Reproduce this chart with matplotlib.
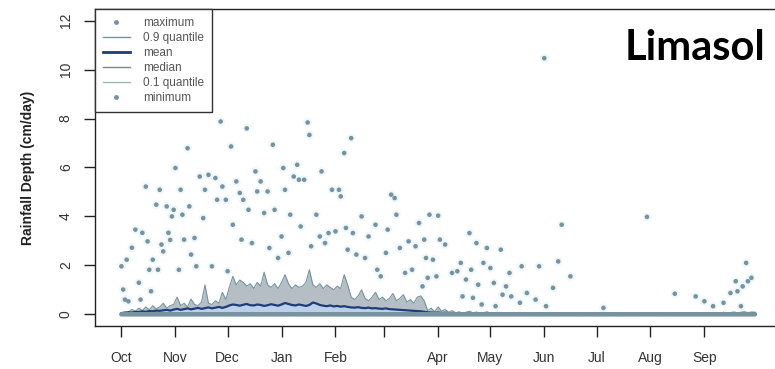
import numpy as np
import matplotlib
matplotlib.use("Agg")
import matplotlib.pyplot as plt
from matplotlib.lines import Line2D

plt.rcParams['font.family'] = ['Liberation Sans', 'DejaVu Sans']

# ---- data (day of water year, starting 1 October) ----
month_ticks = [0, 31, 61, 92, 123, 151, 182, 212, 243, 273, 304, 335]
month_labels = ["Oct", "Nov", "Dec", "Jan", "Feb", "", "Apr", "May", "Jun", "Jul", "Aug", "Sep"]

# daily maximum rainfall over the record (cm/day)
max_day = [0, 1, 2, 3, 4, 6, 8, 10, 11, 12, 14, 15, 16, 17, 18, 20, 21, 22, 23, 24,
           26, 27, 28, 29, 30, 31, 33, 34, 35, 36, 38, 39, 40, 42, 43, 45, 47, 48, 50, 52,
           54, 55, 57, 58, 60, 61, 63, 64, 66, 68, 69, 70, 72, 73, 75, 77, 78, 80, 82, 84,
           85, 87, 88, 90, 92, 93, 94, 96, 97, 99, 101, 102, 103, 105, 107, 108, 109, 112, 114, 115,
           117, 119, 121, 123, 125, 126, 128, 129, 130, 132, 133, 135, 138, 140, 142, 146, 147, 149, 152, 153,
           155, 157, 158, 160, 163, 165, 167, 169, 171, 173, 174, 175, 176, 177, 179, 181, 182, 183, 186, 190,
           193, 195, 196, 198, 200, 201, 202, 204, 205, 207, 208, 210, 212, 214, 215, 218, 219, 221, 223, 224,
           229, 230, 233, 238, 240, 243, 244, 248, 251, 253, 258, 277, 302, 318, 330, 335, 340, 346, 350, 353,
           354, 356, 357, 359, 360, 362]
max_val = [1.96, 1.01, 0.60, 2.23, 0.53, 2.72, 3.46, 1.29, 0.60, 3.33, 5.22, 2.98, 1.82, 0.94, 2.23, 4.48, 1.82, 5.09, 2.85, 2.57,
           4.41, 3.33, 3.04, 4.00, 4.27, 5.98, 1.82, 5.09, 4.07, 3.05, 6.79, 4.41, 2.44, 3.12, 1.96, 5.63, 3.93, 5.09, 5.70, 1.96,
           5.57, 4.68, 7.88, 5.22, 4.68, 1.76, 6.86, 3.66, 5.43, 4.96, 3.05, 4.68, 7.60, 4.27, 2.91, 5.84, 5.02, 5.43, 4.14, 5.02,
           2.71, 6.93, 4.27, 2.30, 3.18, 5.98, 5.09, 2.51, 4.07, 5.63, 6.11, 5.50, 3.59, 5.50, 7.84, 7.33, 2.78, 4.07, 3.18, 5.84,
           2.91, 3.32, 5.09, 3.39, 5.09, 4.82, 6.59, 3.53, 2.64, 7.20, 3.32, 2.44, 4.00, 2.30, 3.18, 3.66, 1.82, 1.55, 2.51, 3.46,
           4.89, 4.75, 4.07, 2.71, 1.69, 2.98, 1.82, 2.78, 3.73, 1.14, 3.05, 2.30, 1.49, 4.07, 2.23, 1.55, 4.03, 3.05, 2.85, 1.69,
           1.76, 2.10, 0.73, 1.42, 3.32, 1.82, 0.67, 2.91, 1.21, 0.40, 2.10, 2.71, 1.89, 1.28, 0.33, 2.64, 0.80, 1.14, 1.69, 0.73,
           0.47, 1.96, 0.87, 0.60, 1.96, 10.47, 0.33, 1.08, 2.16, 3.66, 1.55, 0.26, 3.98, 0.84, 0.73, 0.53, 0.33, 0.47, 0.87, 1.35,
           0.94, 0.33, 1.14, 2.10, 1.35, 1.49]

# statistics on a two-day grid
stat_day = np.arange(0, 365, 2)
q90 = [0.05, 0.10, 0.08, 0.20, 0.12, 0.25, 0.15, 0.30, 0.18, 0.35,
       0.22, 0.30, 0.45, 0.25, 0.35, 0.40, 0.70, 0.35, 0.45, 0.30,
       0.62, 0.40, 0.35, 0.50, 1.20, 0.45, 0.40, 0.55, 0.45, 0.90,
       0.60, 1.10, 1.55, 1.20, 1.40, 1.30, 1.15, 1.25, 1.05, 1.30,
       1.15, 1.72, 1.20, 1.10, 1.25, 1.05, 1.30, 1.62, 1.25, 1.05,
       1.20, 1.10, 1.15, 1.30, 1.82, 1.20, 1.10, 1.25, 1.05, 1.20,
       1.10, 1.00, 1.15, 1.05, 1.62, 1.20, 0.70, 0.60, 0.75, 1.00,
       0.65, 0.55, 0.70, 0.90, 0.60, 0.70, 0.55, 0.65, 0.85, 0.55,
       0.65, 0.80, 0.50, 0.60, 0.45, 0.70, 0.75, 0.55, 0.15, 0.25,
       0.10, 0.30, 0.12, 0.20, 0.08, 0.15,
       0.06, 0.10, 0.05, 0.08, 0.12, 0.06, 0.09, 0.05, 0.07, 0.10, 0.05, 0.06, 0.08, 0.04, 0.06,
       0.05, 0.07, 0.04, 0.06, 0.05, 0.04, 0.06, 0.03, 0.05, 0.04, 0.03, 0.05, 0.04, 0.03, 0.04,
       0.03, 0.03, 0.04, 0.03, 0.02,
       0.03, 0.02, 0.02, 0.03, 0.02, 0.02, 0.02, 0.03, 0.02, 0.02, 0.02, 0.02, 0.03, 0.02, 0.02,
       0.02, 0.02, 0.02, 0.03, 0.02, 0.02, 0.02, 0.02, 0.02, 0.03, 0.02, 0.03, 0.02, 0.03, 0.03,
       0.03, 0.04, 0.03, 0.04, 0.05, 0.04, 0.06, 0.05, 0.04, 0.06, 0.07, 0.05, 0.08, 0.06, 0.07,
       0.09, 0.06, 0.08, 0.10, 0.07, 0.09, 0.08]
mean = [0.05, 0.06, 0.08, 0.07, 0.10, 0.09, 0.12, 0.10, 0.13, 0.12, 0.15, 0.14, 0.16, 0.18, 0.15, 0.19,
        0.22, 0.18, 0.21, 0.24, 0.20, 0.23, 0.26, 0.22, 0.25, 0.28, 0.24, 0.27, 0.30, 0.26, 0.30,
        0.36, 0.40, 0.38, 0.35, 0.39, 0.42, 0.37, 0.36, 0.40, 0.38, 0.34, 0.37, 0.41, 0.38, 0.35,
        0.40, 0.46, 0.42, 0.38, 0.36, 0.40, 0.37, 0.34, 0.38, 0.48, 0.44, 0.38, 0.35, 0.33, 0.36,
        0.32, 0.34, 0.31, 0.33, 0.30,
        0.28, 0.27, 0.29, 0.26, 0.25, 0.27, 0.24, 0.25, 0.23, 0.22, 0.24, 0.21, 0.20, 0.19, 0.18,
        0.17, 0.16, 0.15, 0.14, 0.13, 0.12, 0.10,
        0.08, 0.07, 0.06, 0.07, 0.05, 0.06, 0.05, 0.04, 0.05, 0.04, 0.04, 0.05,
        0.04, 0.03, 0.04, 0.03, 0.03, 0.04, 0.03, 0.03, 0.02, 0.03, 0.03, 0.02, 0.03, 0.02, 0.02,
        0.03, 0.02, 0.02, 0.02, 0.02,
        0.02, 0.01, 0.02, 0.01, 0.01, 0.02, 0.01, 0.01, 0.01, 0.01, 0.01, 0.01, 0.01, 0.01, 0.01,
        0.01, 0.01, 0.01, 0.01, 0.01, 0.01, 0.01, 0.01, 0.01, 0.01, 0.01, 0.01, 0.02, 0.01, 0.01,
        0.01, 0.01, 0.02, 0.01, 0.02, 0.02, 0.01, 0.02, 0.02, 0.02, 0.03, 0.02, 0.03, 0.02, 0.03,
        0.03, 0.04, 0.03, 0.03, 0.04, 0.03, 0.04, 0.04, 0.05, 0.04, 0.04, 0.05, 0.04, 0.05, 0.05,
        0.04, 0.05, 0.05]
median = [0.0] * len(stat_day)
q10 = [0.0] * len(stat_day)

# daily minimum is zero on every day of the year
min_day = np.arange(0, 365)
min_val = np.zeros(len(min_day))

# ---- style ----
pt_color = "#7893a0"
halo_color = "#eef7fa"
q90_color = "#7394a0"
fill_color = "#b6bec5"
mean_fill = "#bdd0ea"
mean_color = "#1d3c78"
median_color = "#7b8c7c"
q10_color = "#9db3ba"

fig = plt.figure(figsize=(7.75, 3.69), dpi=100)
ax = fig.add_axes([95 / 775, 43 / 369, 687 / 775, 317 / 369])

ax.fill_between(stat_day, q10, q90, color=fill_color, lw=0, zorder=1)
ax.plot(stat_day, q90, color=q90_color, lw=0.8, zorder=2)
ax.fill_between(stat_day, q10, mean, color=mean_fill, lw=0, zorder=2)
ax.plot(stat_day, median, color=median_color, lw=1.0, zorder=2)
ax.plot(stat_day, q10, color=q10_color, lw=1.0, zorder=2)
ax.plot(stat_day, mean, color=mean_color, lw=1.6, zorder=3)

# faint haze around the dots
ax.scatter(max_day, max_val, s=40, color=halo_color, edgecolors='none', zorder=0)
ax.scatter(max_day, max_val, s=11, color=pt_color, edgecolors='none', zorder=4)
ax.scatter(min_day, min_val, s=11, color=pt_color, edgecolors='none', zorder=4)

ax.set_xlim(-15.2, 379.6)
ax.set_ylim(-0.48, 12.48)

ax.set_xticks(month_ticks)
ax.set_xticklabels(month_labels)
ax.set_yticks([0, 2, 4, 6, 8, 10, 12])
ax.tick_params(axis='both', direction='out', length=8, width=1, color='#222222',
               labelsize=10, labelcolor='#333333')
ax.tick_params(axis='x', pad=10)
ax.tick_params(axis='y', pad=8)
for lab in ax.get_yticklabels():
    lab.set_rotation(90)
    lab.set_va('center')
for sp in ax.spines.values():
    sp.set_color('#222222')
    sp.set_linewidth(1)

ax.set_ylabel("Rainfall Depth (cm/day)", fontsize=10, fontweight='bold', color='#222222', labelpad=17)

handles = [
    Line2D([], [], ls='none', marker='o', ms=2.5, color=pt_color),
    Line2D([], [], color=q90_color, lw=1.0),
    Line2D([], [], color=mean_color, lw=2.0),
    Line2D([], [], color=median_color, lw=1.0),
    Line2D([], [], color=q10_color, lw=1.0),
    Line2D([], [], ls='none', marker='o', ms=2.5, color=pt_color),
]
labels = ["maximum", "0.9 quantile", "mean", "median", "0.1 quantile", "minimum"]
leg = ax.legend(handles, labels, loc='upper left', bbox_to_anchor=(0, 1), borderaxespad=0,
                fancybox=False, framealpha=1, edgecolor='#333333', fontsize=8.5,
                handlelength=2.3, handletextpad=1.15, labelspacing=0.26, borderpad=0.65)
leg.get_frame().set_linewidth(1.0)
for t in leg.get_texts():
    t.set_color('#555555')
leg.set_zorder(5)

fig.text(765 / 775, (369 - 60) / 369, "Limasol", ha='right', va='baseline',
         fontsize=30, fontweight='bold', family=['Lato', 'DejaVu Sans'], color='black')

fig.savefig("out.png", dpi=100)
